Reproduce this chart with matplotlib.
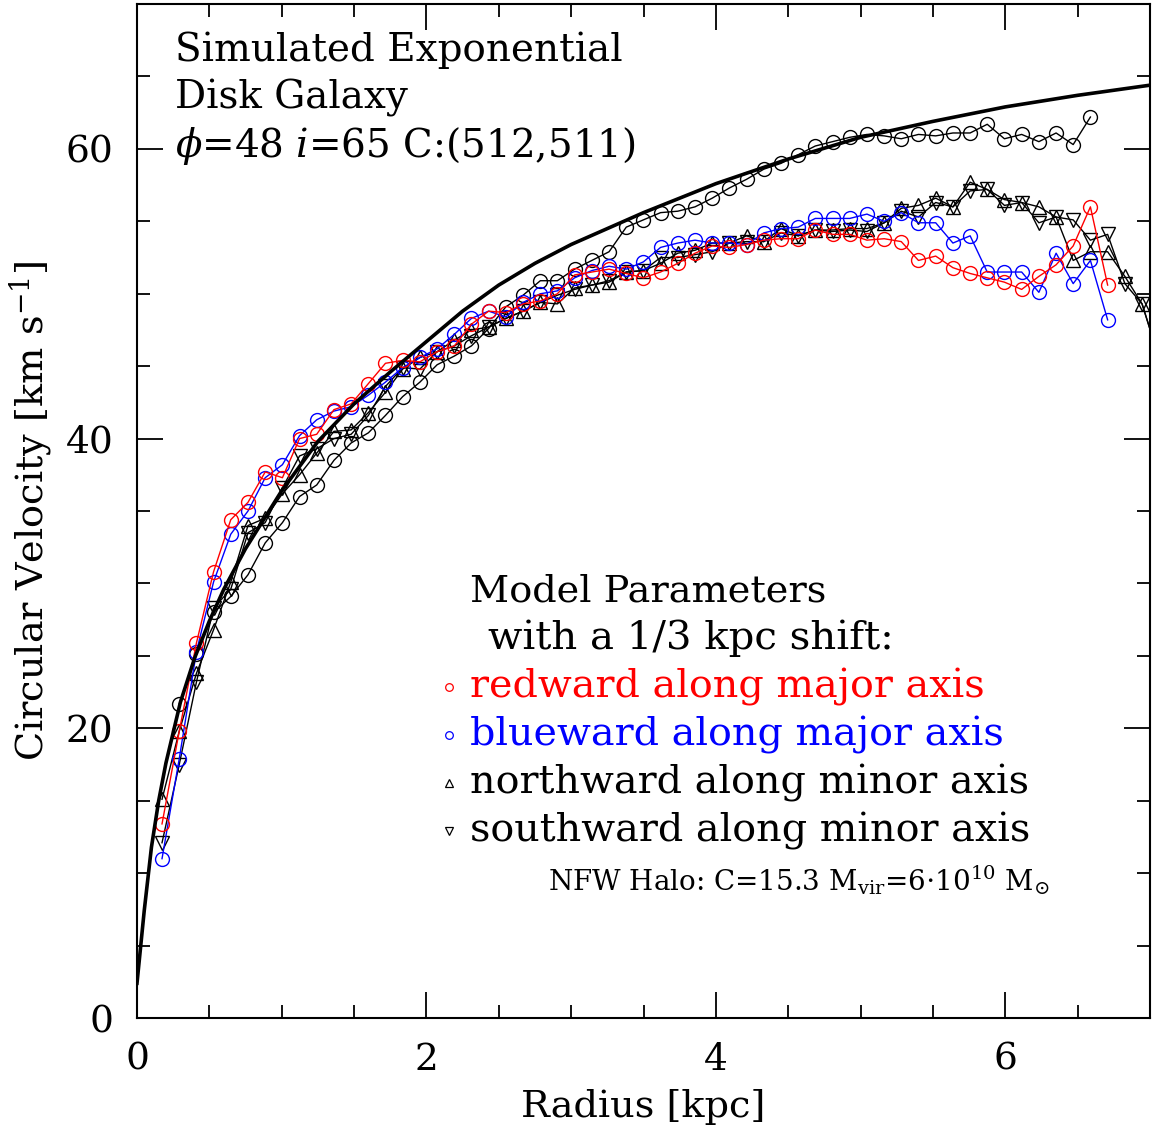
import numpy as np
import matplotlib
matplotlib.use('Agg')
import matplotlib.pyplot as plt
from matplotlib.ticker import MultipleLocator

"""
Rotation curves of a simulated exponential disk galaxy,
model centre shifted by 1/3 kpc in four directions
"""

plt.rcParams['font.family'] = ['DejaVu Serif']
plt.rcParams['mathtext.fontset'] = 'dejavuserif'

# sampled radii of the fitted rings (kpc)
radius = [0.173, 0.292, 0.411, 0.529, 0.648, 0.767, 0.886, 1.005, 1.123, 1.242,
          1.361, 1.480, 1.599, 1.717, 1.836, 1.955, 2.074, 2.193, 2.311, 2.430,
          2.549, 2.668, 2.787, 2.905, 3.024, 3.143, 3.262, 3.381, 3.499, 3.618,
          3.737, 3.856, 3.975, 4.093, 4.212, 4.331, 4.450, 4.569, 4.687, 4.806,
          4.925, 5.044, 5.163, 5.281, 5.400, 5.519, 5.638, 5.757, 5.875, 5.994,
          6.113, 6.232, 6.351, 6.469, 6.588, 6.707, 6.826, 6.945, 7.064]

# no shift (black circles), starts at the second ring
v_center = [21.7, 25.1, 28.0, 29.1, 30.6, 32.8, 34.2, 36.0, 36.8,
            38.5, 39.7, 40.4, 41.6, 42.9, 43.9, 45.1, 45.7, 46.4, 47.6,
            49.1, 49.9, 50.9, 50.9, 51.7, 52.3, 52.9, 54.6, 55.1, 55.6,
            55.7, 56.0, 56.6, 57.3, 57.9, 58.6, 59.0, 59.6, 60.2, 60.5,
            60.8, 61.0, 60.9, 60.7, 61.0, 60.9, 61.1, 61.1, 61.7, 60.7,
            61.0, 60.5, 61.1, 60.3, 62.2]

v_red = [13.4, 19.8, 25.9, 30.8, 34.4, 35.6, 37.7, 37.3, 40.0, 40.3,
         42.0, 42.4, 43.8, 45.2, 45.4, 45.3, 46.0, 46.4, 47.9, 48.8,
         48.7, 49.3, 49.5, 50.0, 51.3, 51.5, 51.7, 51.4, 51.1, 51.5,
         52.1, 52.8, 53.3, 53.2, 53.4, 53.7, 53.8, 53.8, 54.4, 54.1,
         54.1, 53.7, 53.8, 53.6, 52.3, 52.6, 51.8, 51.4, 51.1, 50.8,
         50.3, 51.2, 52.0, 53.3, 56.0, 50.6]

v_blue = [11.0, 17.9, 25.3, 30.1, 33.4, 35.0, 37.3, 38.2, 40.2, 41.3,
          41.9, 42.2, 43.0, 43.9, 44.9, 45.6, 46.2, 47.2, 48.3, 48.8,
          48.4, 49.4, 50.0, 50.2, 51.1, 51.6, 51.9, 51.7, 52.2, 53.2,
          53.5, 53.7, 53.5, 53.5, 53.4, 54.2, 54.5, 54.6, 55.2, 55.2,
          55.2, 55.5, 55.0, 55.6, 54.9, 54.9, 53.5, 54.0, 51.5, 51.5,
          51.5, 50.1, 52.8, 50.7, 52.3, 48.2]

v_north = [15.1, 19.8, 23.8, 26.8, 30.1, 34.0, 34.5, 36.2, 37.5, 39.0,
           40.5, 40.6, 41.8, 43.2, 44.8, 45.6, 46.0, 46.8, 47.5, 47.7,
           48.3, 48.8, 49.4, 49.3, 50.4, 50.6, 50.8, 51.5, 51.6, 52.1,
           52.8, 53.0, 53.5, 53.5, 54.0, 53.6, 54.5, 54.0, 54.4, 54.4,
           54.5, 54.5, 54.9, 55.9, 56.1, 56.6, 56.0, 57.7, 57.2, 56.5,
           56.3, 56.0, 55.3, 52.3, 52.9, 52.9, 51.2, 49.3, 45.5]

v_south = [12.1, 17.5, 23.2, 28.3, 29.6, 33.5, 34.2, 36.6, 38.8, 39.3,
           40.0, 40.3, 41.6, 43.6, 44.9, 44.8, 46.0, 46.4, 47.1, 47.7,
           48.3, 48.8, 49.4, 49.9, 50.3, 50.6, 50.9, 51.5, 51.6, 52.5,
           52.5, 52.7, 52.9, 53.5, 53.6, 53.6, 54.2, 54.0, 54.4, 54.3,
           54.4, 54.3, 54.9, 55.7, 55.3, 56.3, 56.0, 57.1, 57.2, 56.1,
           56.3, 54.9, 55.3, 55.1, 53.7, 54.1, 50.7, 49.3, 45.5]

# model rotation curve (disk + NFW halo)
model_r = [0.0, 0.05, 0.1, 0.15, 0.2, 0.3, 0.4, 0.5, 0.6, 0.75, 1.0, 1.25,
           1.5, 1.75, 2.0, 2.25, 2.5, 2.75, 3.0, 3.5, 4.0, 4.5, 5.0, 5.5,
           6.0, 6.5, 7.0]
model_v = [2.4, 7.4, 11.8, 15.0, 17.6, 21.8, 24.9, 27.4, 29.6, 32.4, 36.4,
           39.8, 42.4, 44.6, 46.7, 48.8, 50.6, 52.1, 53.4, 55.6, 57.6, 59.3,
           60.8, 61.9, 62.9, 63.7, 64.4]

fig = plt.figure(figsize=(11.55, 11.26), dpi=100)
ax = fig.add_axes([0.1186, 0.0959, 0.8771, 0.9005])

ax.plot(model_r, model_v, color='black', lw=2.6, zorder=5)

mk = dict(ms=10, mew=1.0, mfc='none', lw=1.0)
ax.plot(radius[1:1 + len(v_center)], v_center, color='black', marker='o', **mk)
ax.plot(radius[:len(v_north)], v_north, color='black', marker='^', **mk)
ax.plot(radius[:len(v_south)], v_south, color='black', marker='v', **mk)
ax.plot(radius[:len(v_blue)], v_blue, color='#0000ff', marker='o', **mk)
ax.plot(radius[:len(v_red)], v_red, color='#ff0000', marker='o', **mk)

ax.set_xlim(0, 7)
ax.set_ylim(0, 70)
ax.xaxis.set_major_locator(MultipleLocator(2))
ax.xaxis.set_minor_locator(MultipleLocator(0.5))
ax.yaxis.set_major_locator(MultipleLocator(20))
ax.yaxis.set_minor_locator(MultipleLocator(5))
ax.tick_params(which='both', direction='in', top=True, right=True, width=1.3)
ax.tick_params(which='major', length=19, labelsize=27, pad=17)
ax.tick_params(which='minor', length=9.5)
for s in ax.spines.values():
    s.set_linewidth(1.5)

ax.set_xlabel('Radius [kpc]', fontsize=27.5, labelpad=8)
ax.set_ylabel(r'Circular Velocity [km s$^{-1}$]', fontsize=27.5, labelpad=8)

# annotation block in the upper left
for yy, txt in zip([0.9546, 0.907, 0.860],
                   ['Simulated Exponential', 'Disk Galaxy',
                    r'$\phi$=48 $i$=65 C:(512,511)']):
    ax.text(0.0375, yy, txt, transform=ax.transAxes, fontsize=28,
            ha='left', va='center')

# legend built by hand
ax.text(0.3287, 0.4211, 'Model Parameters', transform=ax.transAxes,
        fontsize=27.5, ha='left', va='center')
ax.text(0.3465, 0.3748, 'with a 1/3 kpc shift:', transform=ax.transAxes,
        fontsize=29, ha='left', va='center')
leg_rows = [('redward along major axis', '#ff0000', 'o', 0.3264),
            ('blueward along major axis', '#0000ff', 'o', 0.2791),
            ('northward along minor axis', 'black', '^', 0.2318),
            ('southward along minor axis', 'black', 'v', 0.1844)]
for txt, col, m, yy in leg_rows:
    ax.plot([0.308], [yy], transform=ax.transAxes, marker=m, ms=5.5,
            mfc='none', mec=col, mew=0.9, ls='none')
    ax.text(0.3287, yy, txt, transform=ax.transAxes, fontsize=28.5,
            color=col, ha='left', va='center')
ax.text(0.4057, 0.1361, r'NFW Halo: C=15.3 M$_{\rm vir}$=6$\cdot$10$^{10}$ M$_{\odot}$',
        transform=ax.transAxes, fontsize=20, ha='left', va='center')

fig.savefig('out.png', dpi=100)
